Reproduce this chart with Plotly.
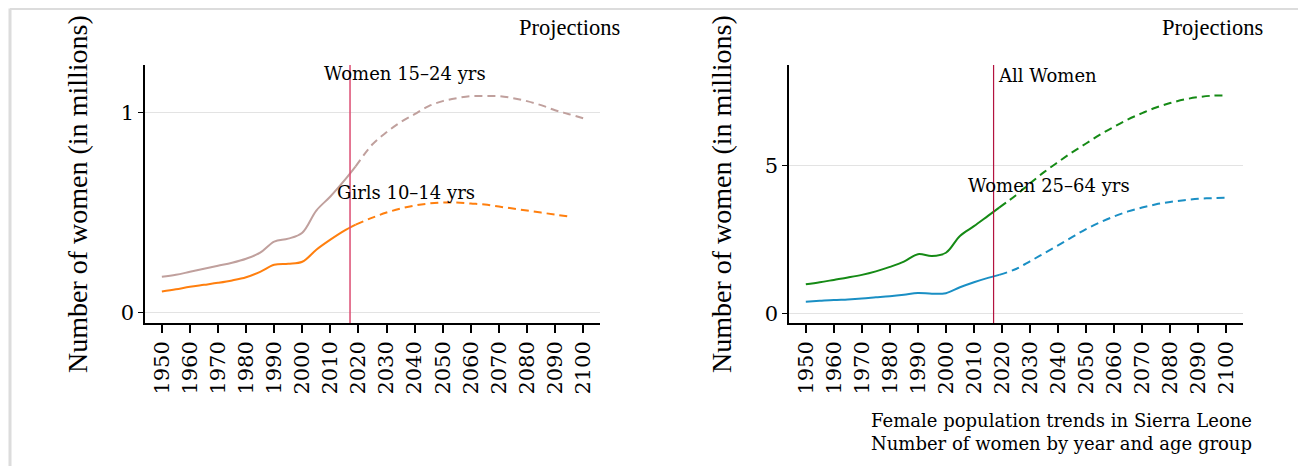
import plotly.graph_objects as go

# ---- data (millions of women) ----
hist_years = [1950, 1955, 1960, 1965, 1970, 1975, 1980, 1985, 1990, 1995, 2000, 2005, 2010, 2015, 2019]
proj_years = [2019, 2025, 2030, 2035, 2040, 2045, 2050, 2055, 2060, 2065, 2070, 2075, 2080, 2085, 2090, 2095, 2100]

women_15_24_hist = [0.18, 0.19, 0.205, 0.22, 0.235, 0.25, 0.27, 0.30, 0.355, 0.37, 0.40, 0.51, 0.58, 0.66, 0.73]
women_15_24_proj = [0.73, 0.84, 0.90, 0.95, 0.99, 1.03, 1.055, 1.07, 1.08, 1.08, 1.08, 1.07, 1.055, 1.035, 1.01, 0.99, 0.97]

girls_10_14_hist = [0.107, 0.118, 0.13, 0.14, 0.15, 0.162, 0.178, 0.205, 0.24, 0.245, 0.255, 0.315, 0.365, 0.41, 0.44]
girls_10_14_proj = [0.44, 0.475, 0.50, 0.52, 0.535, 0.545, 0.55, 0.55, 0.545, 0.54, 0.53, 0.52, 0.51, 0.50, 0.49, 0.48]

all_women_hist = [0.98, 1.05, 1.13, 1.21, 1.30, 1.42, 1.57, 1.75, 2.0, 1.94, 2.05, 2.62, 2.95, 3.3, 3.58]
all_women_proj = [3.58, 4.0, 4.4, 4.78, 5.12, 5.45, 5.75, 6.05, 6.32, 6.57, 6.78, 6.97, 7.12, 7.24, 7.32, 7.37, 7.38]

women_25_64_hist = [0.39, 0.42, 0.45, 0.47, 0.50, 0.54, 0.58, 0.63, 0.69, 0.66, 0.68, 0.88, 1.05, 1.20, 1.30]
women_25_64_proj = [1.30, 1.50, 1.76, 2.03, 2.30, 2.58, 2.85, 3.08, 3.28, 3.45, 3.58, 3.69, 3.77, 3.83, 3.88, 3.90, 3.91]

x_ticks = list(range(1950, 2101, 10))
cutoff_year = 2017

# the page body adds an 8px margin, so the figure is 8px smaller and shifted
OFF = 8
W, H = 1306 - OFF, 466 - OFF
SERIF = "DejaVu Serif"
TIMES = "Liberation Serif"


def px_x(p):
    return (p - OFF) / W


def px_y(p):
    return 1 - (p - OFF) / H


fig = go.Figure()


def add_pair(hist, proj, color, xa, ya, proj_x=None):
    fig.add_trace(go.Scatter(
        x=hist_years, y=hist, mode="lines", line=dict(color=color, width=2, shape="spline"),
        xaxis=xa, yaxis=ya, hoverinfo="skip", showlegend=False,
    ))
    fig.add_trace(go.Scatter(
        x=proj_x or proj_years, y=proj, mode="lines",
        line=dict(color=color, width=2, dash="8px,5px", shape="spline"),
        xaxis=xa, yaxis=ya, hoverinfo="skip", showlegend=False,
    ))


add_pair(women_15_24_hist, women_15_24_proj, "#c0a09d", "x", "y")
add_pair(girls_10_14_hist, girls_10_14_proj, "#ff7f0e", "x", "y", proj_years[:-1])
add_pair(all_women_hist, all_women_proj, "#158a15", "x2", "y2")
add_pair(women_25_64_hist, women_25_64_proj, "#1a8fc4", "x2", "y2")

axis_common = dict(
    showline=True, linecolor="black", linewidth=1.5, ticks="outside",
    tickcolor="black", tickfont=dict(family=SERIF, size=21, color="black"),
    automargin=False, zeroline=False,
)
xaxis_common = dict(
    axis_common, tickvals=x_ticks, tickangle=-90, ticklen=8, tickwidth=1.5,
    range=[1944, 2106], showgrid=False,
)
yaxis_common = dict(axis_common, ticklen=5, tickwidth=1, showgrid=True, gridcolor="#e3e3e3", gridwidth=1)

fig.update_layout(
    width=W, height=H,
    margin=dict(l=0, r=0, t=0, b=0),
    paper_bgcolor="white", plot_bgcolor="white",
    showlegend=False,
    xaxis=dict(xaxis_common, domain=[px_x(145), px_x(600)], anchor="y"),
    yaxis=dict(yaxis_common, domain=[px_y(323), px_y(65)], anchor="x",
               tickvals=[0, 1], range=[-0.05, 1.235]),
    xaxis2=dict(xaxis_common, domain=[px_x(789), px_x(1243)], anchor="y2"),
    yaxis2=dict(yaxis_common, domain=[px_y(323), px_y(65)], anchor="x2",
                tickvals=[0, 5], range=[-0.33, 8.41]),
)

# projection start lines
fig.add_shape(type="line", xref="x", yref="y domain", x0=cutoff_year, x1=cutoff_year, y0=0, y1=1,
              line=dict(color="#dc4c72", width=1.5))
fig.add_shape(type="line", xref="x2", yref="y2 domain", x0=cutoff_year, x1=cutoff_year, y0=0, y1=1,
              line=dict(color="#b3123f", width=1.2))

# outer frame
frame = dict(color="#dcdcdc", width=3)
fig.add_shape(type="line", xref="paper", yref="paper", x0=px_x(10), x1=px_x(10), y0=px_y(8.5), y1=0, line=frame)
fig.add_shape(type="line", xref="paper", yref="paper", x0=px_x(10), x1=px_x(1301), y0=px_y(8.5), y1=px_y(8.5), line=frame)
fig.add_shape(type="line", xref="paper", yref="paper", x0=px_x(1301), x1=px_x(1301), y0=px_y(8.5), y1=0, line=frame)

ann_font = dict(family=SERIF, size=18, color="black")
proj_font = dict(family=TIMES, size=22.5, color="black")
ytitle_font = dict(family=TIMES, size=28, color="black")
annotations = [
    dict(x=2036.5, y=1.195, xref="x", yref="y", text="Women 15–24 yrs", showarrow=False, font=ann_font),
    dict(x=2037, y=0.60, xref="x", yref="y", text="Girls 10–14 yrs", showarrow=False, font=ann_font),
    dict(x=2018, y=8.07, xref="x2", yref="y2", text="All Women", showarrow=False, font=ann_font, xanchor="left"),
    dict(x=2036.8, y=4.34, xref="x2", yref="y2", text="Women 25–64 yrs", showarrow=False, font=ann_font),
    dict(x=px_x(569), y=px_y(28), xref="paper", yref="paper", text="Projections", showarrow=False,
         xanchor="center", yanchor="middle", font=proj_font),
    dict(x=px_x(1212), y=px_y(28), xref="paper", yref="paper", text="Projections", showarrow=False,
         xanchor="center", yanchor="middle", font=proj_font),
    dict(x=px_x(78), y=px_y(194), xref="paper", yref="paper", text="Number of women (in millions)",
         textangle=-90, showarrow=False, xanchor="center", yanchor="middle", font=ytitle_font),
    dict(x=px_x(722), y=px_y(194), xref="paper", yref="paper", text="Number of women (in millions)",
         textangle=-90, showarrow=False, xanchor="center", yanchor="middle", font=ytitle_font),
    dict(x=px_x(1254), y=px_y(432), xref="paper", yref="paper", xanchor="right", yanchor="middle",
         align="right",
         text="Female population trends in Sierra Leone<br>Number of women by year and age group",
         showarrow=False, font=dict(family=SERIF, size=18, color="black")),
]
fig.update_layout(annotations=annotations)

fig.write_html("out.html")
